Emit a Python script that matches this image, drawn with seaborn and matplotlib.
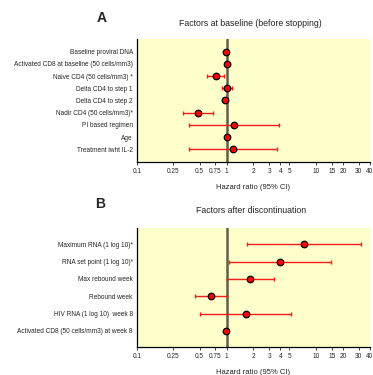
import matplotlib
matplotlib.use("Agg")
import matplotlib.pyplot as plt
import seaborn as sns
import numpy as np
import pandas as pd

# panel A - factors at baseline
labels_a = ["Baseline proviral DNA", "Activated CD8 at baseline (50 cells/mm3)",
            "Naive CD4 (50 cells/mm3) *", "Delta CD4 to step 1", "Delta CD4 to step 2",
            "Nadir CD4 (50 cells/mm3)*", "PI based regimen", "Age", "Treatment iwht IL-2"]
hr_a = [0.98, 1.01, 0.76, 1.00, 0.95, 0.48, 1.22, 1.00, 1.17]
lo_a = [0.97, 0.95, 0.61, 0.88, 0.89, 0.33, 0.38, 0.96, 0.38]
hi_a = [0.99, 1.10, 0.94, 1.14, 1.03, 0.71, 3.87, 1.06, 3.70]

# panel B - factors after discontinuation
labels_b = ["Maximum RNA (1 log 10)*", "RNA set point (1 log 10)*", "Max rebound week",
            "Rebound week", "HIV RNA (1 log 10)  week 8",
            "Activated CD8 (50 cells/mm3) at week 8"]
hr_b = [7.4, 3.95, 1.85, 0.67, 1.63, 0.99]
lo_b = [1.68, 1.07, 1.00, 0.44, 0.51, 0.98]
hi_b = [32.0, 14.7, 3.4, 1.01, 5.3, 1.00]

ticks = [0.1, 0.25, 0.5, 0.75, 1, 2, 3, 4, 5, 10, 15, 20, 30, 40]
tick_labels = ["0.1", "0.25", "0.5", "0.75", "1", "2", "3", "4", "5", "10", "15", "20", "30", "40"]

sns.set_style("ticks")
plt.rcParams['font.family'] = ['Liberation Sans', 'DejaVu Sans']

fig = plt.figure(figsize=(3.73, 3.75), dpi=100)
W, H = 373.0, 375.0


def forest(ax, labels, hr, lo, hi, ylim):
    df = pd.DataFrame({"label": labels, "hr": hr, "lo": lo, "hi": hi,
                       "y": np.arange(len(labels))})
    ax.set_facecolor("#ffffcc")
    ax.axvline(1, color="#5e5e4c", lw=1.8, zorder=1)
    ax.errorbar(df["hr"], df["y"],
                xerr=[df["hr"] - df["lo"], df["hi"] - df["hr"]],
                fmt="none", ecolor="#ff1a1a", elinewidth=1.0, capsize=1.6,
                capthick=1.0, zorder=2)
    sns.scatterplot(data=df, x="hr", y="y", ax=ax, marker="o", s=22,
                    color="#ff0000", edgecolor="black", linewidth=0.9, zorder=3,
                    legend=False)
    ax.set_xscale("log")
    ax.set_xlim(0.1, 40)
    ax.set_ylim(*ylim)
    ax.set_xticks(ticks)
    ax.set_xticklabels(tick_labels, fontsize=4.7)
    ax.minorticks_off()
    ax.set_yticks(df["y"])
    ax.set_yticklabels(labels, fontsize=4.7)
    ax.tick_params(axis="y", length=0, pad=3)
    ax.tick_params(axis="x", length=2.5, width=0.6, pad=2)
    ax.set_xlabel("Hazard ratio (95% CI)", fontsize=5.5, labelpad=6)
    ax.set_ylabel("")
    for s in ["top", "right"]:
        ax.spines[s].set_visible(False)
    for s in ["left", "bottom"]:
        ax.spines[s].set_color("black")
        ax.spines[s].set_linewidth(0.9)


ax_a = fig.add_axes([137 / W, 1 - 162 / H, 233 / W, 123 / H])
forest(ax_a, labels_a, hr_a, lo_a, hi_a, (9.05, -1.05))
ax_b = fig.add_axes([137 / W, 1 - 347 / H, 233 / W, 119 / H])
forest(ax_b, labels_b, hr_b, lo_b, hi_b, (5.93, -0.94))

fig.text(102 / W, 1 - 18 / H, "A", fontsize=10, fontweight="bold", ha="center", va="center")
fig.text(250 / W, 1 - 23.5 / H, "Factors at baseline (before stopping)", fontsize=6.3,
         ha="center", va="center")
fig.text(100 / W, 1 - 204 / H, "B", fontsize=10, fontweight="bold", ha="center", va="center")
fig.text(251 / W, 1 - 210 / H, "Factors after discontinuation", fontsize=6.3,
         ha="center", va="center")

fig.savefig("out.png", dpi=100)
